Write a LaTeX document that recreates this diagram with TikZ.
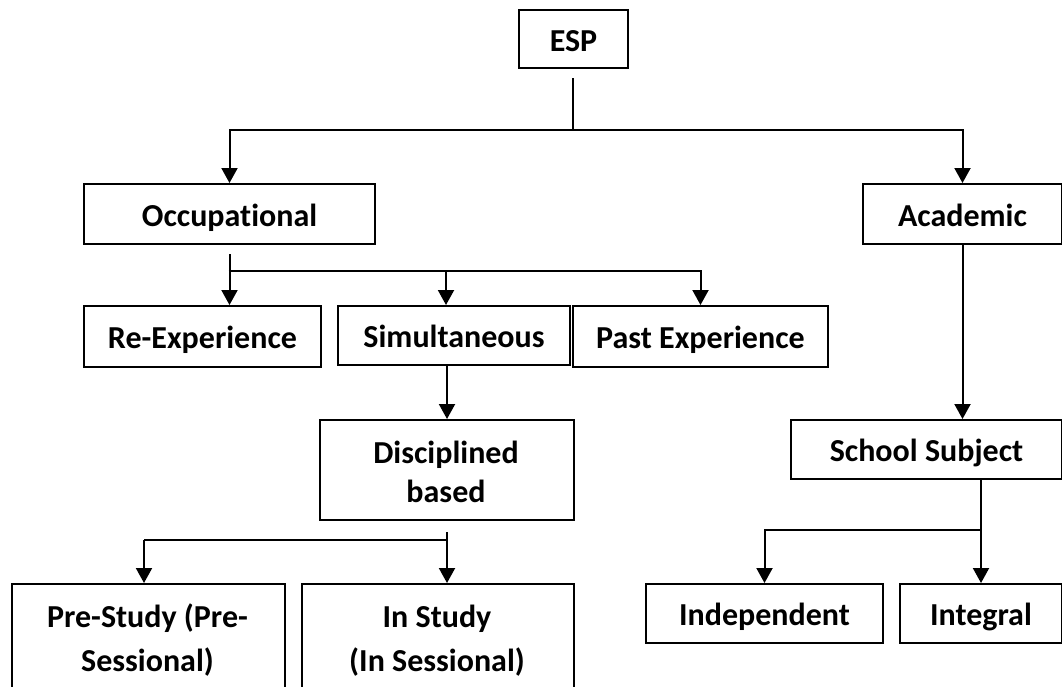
\documentclass[tikz,border=0pt]{standalone}
\usepackage{fontspec}
\setmainfont[Ligatures=NoCommon]{Carlito}
\usetikzlibrary{arrows.meta,calc}
\begin{document}
\begin{tikzpicture}[x=1pt,y=-1pt,
  box/.style={draw, line width=2pt, inner sep=0pt, anchor=north west,
    font=\fontsize{32}{39}\selectfont\bfseries, text height=25pt, text depth=1pt},
  lbl/.style={inner sep=0pt, anchor=base, font=\fontsize{32}{39}\selectfont\bfseries},
  conn/.style={line width=2pt},
  arr/.style={line width=2pt, -{Triangle[width=16pt,length=15pt]}}]
\useasboundingbox (0,0) rectangle (1062,686);
\clip (0,0) rectangle (1062,686);

% boxes
\node[box, minimum width=109, minimum height=58] (esp) at (518,9) {ESP};
\node[box, minimum width=291, minimum height=60] (occ) at (83,183) {Occupational};
\node[box, minimum width=199, minimum height=60] (acad) at (862,183) {Academic};
\node[box, minimum width=237, minimum height=61] (reexp) at (83,305) {Re-Experience};
\node[box, minimum width=232, minimum height=59] (simul) at (337,305) {Simultaneous};
\node[box, minimum width=255, minimum height=61] (past) at (572,305) {Past Experience};
\node[box, minimum width=254, minimum height=100] (disc) at (319,419) {};
\node[lbl] (disc1) at (446,463) {Disciplined};
\node[lbl] (disc2) at (446,502) {based};
\node[box, minimum width=271, minimum height=59] (school) at (790,419) {School Subject};
\node[box, minimum width=273, minimum height=140] (pre) at (11,583) {};
\node[lbl] (pre1) at (147.5,627) {Pre-Study (Pre-};
\node[lbl] (pre2) at (147.5,671) {Sessional)};
\node[box, minimum width=272, minimum height=140] (instudy) at (301,583) {};
\node[lbl] (in1) at (437,627) {In Study};
\node[lbl] (in2) at (437,671) {(In Sessional)};
\node[box, minimum width=237, minimum height=59] (indep) at (645,583) {Independent};
\node[box, minimum width=162, minimum height=59] (integral) at (899,583) {Integral};

% junction points
\coordinate (j1) at (573,130);
\coordinate (j2) at (228.5,271);
\coordinate (j4) at (446,271);
\coordinate (j5) at (446,540);
\coordinate (j6) at (144,540);
\coordinate (j7) at (980,530);

% ESP -> Occupational / Academic
\draw[conn] ($(j1 |- esp.south)+(0,9)$) -- (j1);
\draw[arr] (j1) -| (occ.north);
\draw[arr] (j1) -| (acad.north);

% Occupational -> three
\draw[arr] ($(occ.south)+(0,9)$) -- (occ.south |- reexp.north);
\draw[arr] (j2) -| (past.north);
\draw[arr] (j4) -- (j4 |- simul.north);

% Simultaneous -> Disciplined
\draw[arr] (simul.south -| disc.north) -- (disc.north);

% Disciplined -> Pre-Study / In Study
\draw[arr] ($(disc.south)+(0,11)$) -- (disc.south |- instudy.north);
\draw[conn] (j5) -- (j6);
\draw[arr] (j6) -- (j6 |- pre.north);

% Academic -> School Subject
\draw[arr] (acad.south) -- (acad.south |- school.north);

% School Subject -> Independent / Integral
\draw[arr] (school.south -| integral.north) -- (integral.north);
\draw[arr] (j7) -| (indep.north);
\end{tikzpicture}
\end{document}
